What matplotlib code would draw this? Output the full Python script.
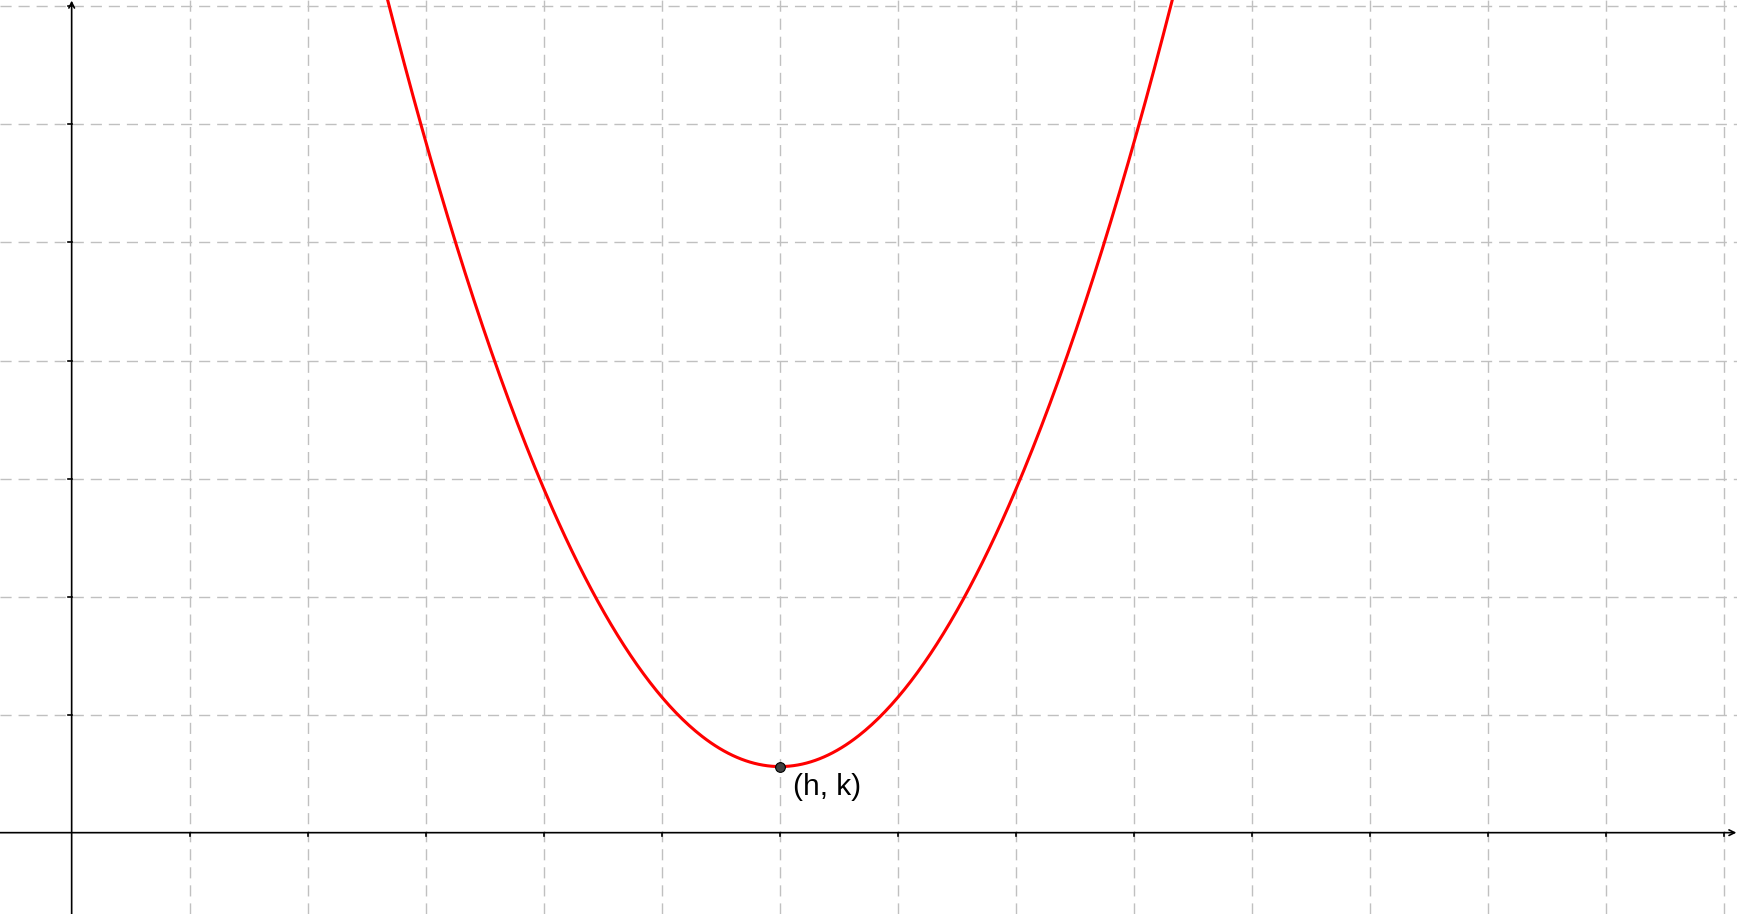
import matplotlib
matplotlib.use("Agg")
import matplotlib.pyplot as plt
import numpy as np

plt.rcParams['font.family'] = ['Liberation Sans', 'DejaVu Sans']
plt.rcParams['lines.scale_dashes'] = False

# Parabola parameters: y = a (x - h)^2 + k
a_coef = 0.588
h_val = 6.0
k_val = 0.56
vertex_label = "(h, k)"

# grid positions
x_grid = [1, 2, 3, 4, 5, 6, 7, 8, 9, 10, 11, 12, 13, 14]
y_grid = [1, 2, 3, 4, 5, 6, 7]

xmin, xmax = -0.607, 14.107
ymin, ymax = -0.689, 7.054

fig = plt.figure(figsize=(17.37, 9.14), dpi=100)
ax = fig.add_axes([0, 0, 1, 1])
ax.set_xlim(xmin, xmax)
ax.set_ylim(ymin, ymax)
ax.axis('off')

grid_col = '#c0c0c0'
for gx in x_grid:
    ax.plot([gx, gx], [ymin, ymax], color=grid_col, lw=1.0, dashes=(8, 5), zorder=1)
for gy in y_grid:
    ax.plot([xmin, xmax], [gy, gy], color=grid_col, lw=1.0, dashes=(8, 5), zorder=1)

# axes with arrows
ax.annotate('', xy=(xmax - 0.005, 0), xytext=(xmin, 0),
            arrowprops=dict(arrowstyle='->', lw=1.2, color='black',
                            mutation_scale=10, shrinkA=0, shrinkB=0), zorder=3)
ax.annotate('', xy=(0, ymax - 0.005), xytext=(0, ymin),
            arrowprops=dict(arrowstyle='->', lw=1.2, color='black',
                            mutation_scale=10, shrinkA=0, shrinkB=0), zorder=3)

# tick marks
tick_len = 0.03
for gx in x_grid:
    ax.plot([gx, gx], [0, -tick_len], color='black', lw=1.2, zorder=3)
for gy in y_grid:
    ax.plot([0, -tick_len], [gy, gy], color='black', lw=1.2, zorder=3)

# parabola
xs = np.linspace(xmin, xmax, 800)
ys = a_coef * (xs - h_val) ** 2 + k_val
ax.plot(xs, ys, color='#ff0000', lw=2.2, zorder=4, solid_capstyle='round')

# vertex
ax.plot([h_val], [k_val], 'o', ms=7, color='#404040', mec='black', mew=0.8, zorder=5)
ax.text(h_val + 0.11, 0.39, vertex_label, fontsize=21.5, color='black',
        ha='left', va='center', zorder=6)

fig.savefig('out.png', dpi=100)
